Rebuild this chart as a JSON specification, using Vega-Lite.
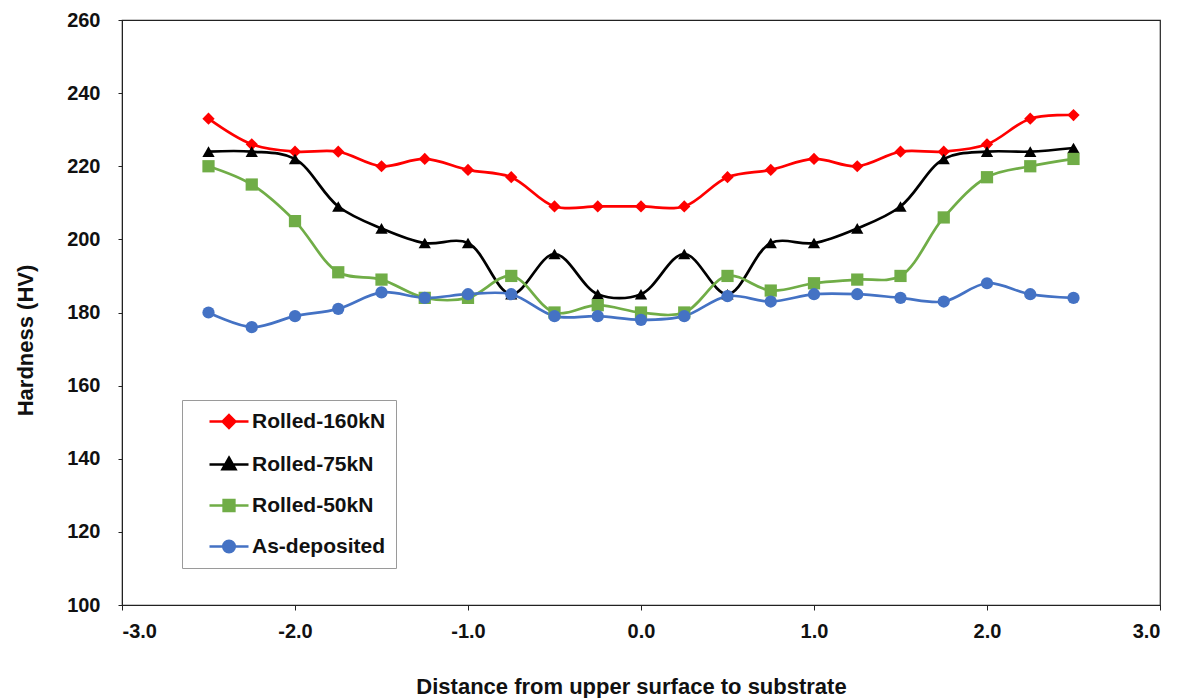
{
  "$schema": "https://vega.github.io/schema/vega-lite/v6.json",
  "width": 1038,
  "height": 585,
  "autosize": {"type": "none"},
  "padding": {"left": 122, "top": 20, "right": 25, "bottom": 93},
  "background": "white",
  "config": {
    "font": "Liberation Sans",
    "view": {"stroke": "#222", "strokeWidth": 1.2},
    "axis": {
      "grid": false,
      "domainColor": "#222",
      "tickColor": "#222",
      "labelFont": "Liberation Sans",
      "labelFontWeight": "bold",
      "labelFontSize": 20,
      "labelColor": "#111",
      "titleFont": "Liberation Sans",
      "titleFontWeight": "bold",
      "titleFontSize": 22,
      "titleColor": "#111"
    }
  },
  "data": {
    "values": [
      {"d": -2.5, "hv": 233, "s": "Rolled-160kN"},
      {"d": -2.25, "hv": 226, "s": "Rolled-160kN"},
      {"d": -2.0, "hv": 224, "s": "Rolled-160kN"},
      {"d": -1.75, "hv": 224, "s": "Rolled-160kN"},
      {"d": -1.5, "hv": 220, "s": "Rolled-160kN"},
      {"d": -1.25, "hv": 222, "s": "Rolled-160kN"},
      {"d": -1.0, "hv": 219, "s": "Rolled-160kN"},
      {"d": -0.75, "hv": 217, "s": "Rolled-160kN"},
      {"d": -0.5, "hv": 209, "s": "Rolled-160kN"},
      {"d": -0.25, "hv": 209, "s": "Rolled-160kN"},
      {"d": 0.0, "hv": 209, "s": "Rolled-160kN"},
      {"d": 0.25, "hv": 209, "s": "Rolled-160kN"},
      {"d": 0.5, "hv": 217, "s": "Rolled-160kN"},
      {"d": 0.75, "hv": 219, "s": "Rolled-160kN"},
      {"d": 1.0, "hv": 222, "s": "Rolled-160kN"},
      {"d": 1.25, "hv": 220, "s": "Rolled-160kN"},
      {"d": 1.5, "hv": 224, "s": "Rolled-160kN"},
      {"d": 1.75, "hv": 224, "s": "Rolled-160kN"},
      {"d": 2.0, "hv": 226, "s": "Rolled-160kN"},
      {"d": 2.25, "hv": 233, "s": "Rolled-160kN"},
      {"d": 2.5, "hv": 234, "s": "Rolled-160kN"},

      {"d": -2.5, "hv": 224, "s": "Rolled-75kN"},
      {"d": -2.25, "hv": 224, "s": "Rolled-75kN"},
      {"d": -2.0, "hv": 222, "s": "Rolled-75kN"},
      {"d": -1.75, "hv": 209, "s": "Rolled-75kN"},
      {"d": -1.5, "hv": 203, "s": "Rolled-75kN"},
      {"d": -1.25, "hv": 199, "s": "Rolled-75kN"},
      {"d": -1.0, "hv": 199, "s": "Rolled-75kN"},
      {"d": -0.75, "hv": 185, "s": "Rolled-75kN"},
      {"d": -0.5, "hv": 196, "s": "Rolled-75kN"},
      {"d": -0.25, "hv": 185, "s": "Rolled-75kN"},
      {"d": 0.0, "hv": 185, "s": "Rolled-75kN"},
      {"d": 0.25, "hv": 196, "s": "Rolled-75kN"},
      {"d": 0.5, "hv": 185, "s": "Rolled-75kN"},
      {"d": 0.75, "hv": 199, "s": "Rolled-75kN"},
      {"d": 1.0, "hv": 199, "s": "Rolled-75kN"},
      {"d": 1.25, "hv": 203, "s": "Rolled-75kN"},
      {"d": 1.5, "hv": 209, "s": "Rolled-75kN"},
      {"d": 1.75, "hv": 222, "s": "Rolled-75kN"},
      {"d": 2.0, "hv": 224, "s": "Rolled-75kN"},
      {"d": 2.25, "hv": 224, "s": "Rolled-75kN"},
      {"d": 2.5, "hv": 225, "s": "Rolled-75kN"},

      {"d": -2.5, "hv": 220, "s": "Rolled-50kN"},
      {"d": -2.25, "hv": 215, "s": "Rolled-50kN"},
      {"d": -2.0, "hv": 205, "s": "Rolled-50kN"},
      {"d": -1.75, "hv": 191, "s": "Rolled-50kN"},
      {"d": -1.5, "hv": 189, "s": "Rolled-50kN"},
      {"d": -1.25, "hv": 184, "s": "Rolled-50kN"},
      {"d": -1.0, "hv": 184, "s": "Rolled-50kN"},
      {"d": -0.75, "hv": 190, "s": "Rolled-50kN"},
      {"d": -0.5, "hv": 180, "s": "Rolled-50kN"},
      {"d": -0.25, "hv": 182, "s": "Rolled-50kN"},
      {"d": 0.0, "hv": 180, "s": "Rolled-50kN"},
      {"d": 0.25, "hv": 180, "s": "Rolled-50kN"},
      {"d": 0.5, "hv": 190, "s": "Rolled-50kN"},
      {"d": 0.75, "hv": 186, "s": "Rolled-50kN"},
      {"d": 1.0, "hv": 188, "s": "Rolled-50kN"},
      {"d": 1.25, "hv": 189, "s": "Rolled-50kN"},
      {"d": 1.5, "hv": 190, "s": "Rolled-50kN"},
      {"d": 1.75, "hv": 206, "s": "Rolled-50kN"},
      {"d": 2.0, "hv": 217, "s": "Rolled-50kN"},
      {"d": 2.25, "hv": 220, "s": "Rolled-50kN"},
      {"d": 2.5, "hv": 222, "s": "Rolled-50kN"},

      {"d": -2.5, "hv": 180, "s": "As-deposited"},
      {"d": -2.25, "hv": 176, "s": "As-deposited"},
      {"d": -2.0, "hv": 179, "s": "As-deposited"},
      {"d": -1.75, "hv": 181, "s": "As-deposited"},
      {"d": -1.5, "hv": 185.5, "s": "As-deposited"},
      {"d": -1.25, "hv": 184, "s": "As-deposited"},
      {"d": -1.0, "hv": 185, "s": "As-deposited"},
      {"d": -0.75, "hv": 185, "s": "As-deposited"},
      {"d": -0.5, "hv": 179, "s": "As-deposited"},
      {"d": -0.25, "hv": 179, "s": "As-deposited"},
      {"d": 0.0, "hv": 178, "s": "As-deposited"},
      {"d": 0.25, "hv": 179, "s": "As-deposited"},
      {"d": 0.5, "hv": 184.5, "s": "As-deposited"},
      {"d": 0.75, "hv": 183, "s": "As-deposited"},
      {"d": 1.0, "hv": 185, "s": "As-deposited"},
      {"d": 1.25, "hv": 185, "s": "As-deposited"},
      {"d": 1.5, "hv": 184, "s": "As-deposited"},
      {"d": 1.75, "hv": 183, "s": "As-deposited"},
      {"d": 2.0, "hv": 188, "s": "As-deposited"},
      {"d": 2.25, "hv": 185, "s": "As-deposited"},
      {"d": 2.5, "hv": 184, "s": "As-deposited"}
    ]
  },
  "encoding": {
    "x": {
      "field": "d",
      "type": "quantitative",
      "scale": {"domain": [-3, 3], "nice": false, "zero": false},
      "axis": {
        "title": "Distance from upper surface to substrate",
        "values": [-3, -2, -1, 0, 1, 2, 3],
        "labelExpr": "replace(format(datum.value, '.1f'), '\u2212', '-')",
        "tickSize": 5,
        "labelPadding": 11,
        "titlePadding": 35,
        "titleX": 509
      }
    },
    "y": {
      "field": "hv",
      "type": "quantitative",
      "scale": {"domain": [100, 260], "nice": false, "zero": false},
      "axis": {
        "title": "Hardness (HV)",
        "values": [100, 120, 140, 160, 180, 200, 220, 240, 260],
        "tickSize": 4,
        "labelPadding": 18,
        "titlePadding": 29,
        "titleY": 320
      }
    }
  },
  "resolve": {"legend": {"color": "independent", "shape": "independent"}},
  "layer": [
    {
      "mark": {"type": "line", "interpolate": "catmull-rom", "strokeWidth": 2.7},
      "encoding": {
        "color": {
          "field": "s",
          "type": "nominal",
          "sort": ["Rolled-160kN", "Rolled-75kN", "Rolled-50kN", "As-deposited"],
          "scale": {
            "domain": ["Rolled-160kN", "Rolled-75kN", "Rolled-50kN", "As-deposited"],
            "range": ["#ff0000", "#000000", "#70ad47", "#4472c4"]
          },
          "legend": {
            "title": null,
            "orient": "none",
            "legendX": 60,
            "legendY": 380,
            "padding": 10,
            "symbolOffset": 16,
            "strokeColor": "#9a9a9a",
            "fillColor": "white",
            "symbolSize": 400,
            "symbolStrokeWidth": 2.5,
            "labelFont": "Liberation Sans",
            "labelFontWeight": "bold",
            "labelFontSize": 21,
            "labelColor": "#111",
            "labelOffset": 21,
            "labelExpr": "datum.label + '\u00a0\u00a0'",
            "rowPadding": 19,
            "encode": {
              "symbols": {
                "update": {
                  "shape": {"signal": "datum.value === 'Rolled-160kN' ? 'M-1,0H2.9M0.95,-0.64L1.59,0L0.95,0.64L0.31,0Z' : datum.value === 'Rolled-75kN' ? 'M-1,0H2.9M0.95,-0.68L1.6,0.48L0.3,0.48Z' : datum.value === 'Rolled-50kN' ? 'M-1,0H2.9M0.41,-0.54H1.49V0.54H0.41Z' : 'M-1,0H2.9M0.37,0A0.58,0.58,0,1,0,1.53,0A0.58,0.58,0,1,0,0.37,0Z'"},
                  "fill": {"signal": "datum.value === 'Rolled-160kN' ? '#ff0000' : datum.value === 'Rolled-75kN' ? '#000000' : datum.value === 'Rolled-50kN' ? '#70ad47' : '#4472c4'"},
                  "stroke": {"signal": "datum.value === 'Rolled-160kN' ? '#ff0000' : datum.value === 'Rolled-75kN' ? '#000000' : datum.value === 'Rolled-50kN' ? '#70ad47' : '#4472c4'"},
                  "strokeWidth": {"value": 2.5},
                  "opacity": {"value": 1},
                  "fillOpacity": {"value": 1},
                  "strokeOpacity": {"value": 1}
                }
              }
            }
          }
        }
      }
    },
    {
      "mark": {"type": "point", "filled": true, "opacity": 1, "size": 150},
      "encoding": {
        "color": {
          "field": "s",
          "type": "nominal",
          "sort": ["Rolled-160kN", "Rolled-75kN", "Rolled-50kN", "As-deposited"],
          "legend": null
        },
        "shape": {
          "field": "s",
          "type": "nominal",
          "sort": ["Rolled-160kN", "Rolled-75kN", "Rolled-50kN", "As-deposited"],
          "scale": {
            "domain": ["Rolled-160kN", "Rolled-75kN", "Rolled-50kN", "As-deposited"],
            "range": ["diamond", "triangle-up", "square", "circle"]
          },
          "legend": null
        }
      }
    }
  ]
}
